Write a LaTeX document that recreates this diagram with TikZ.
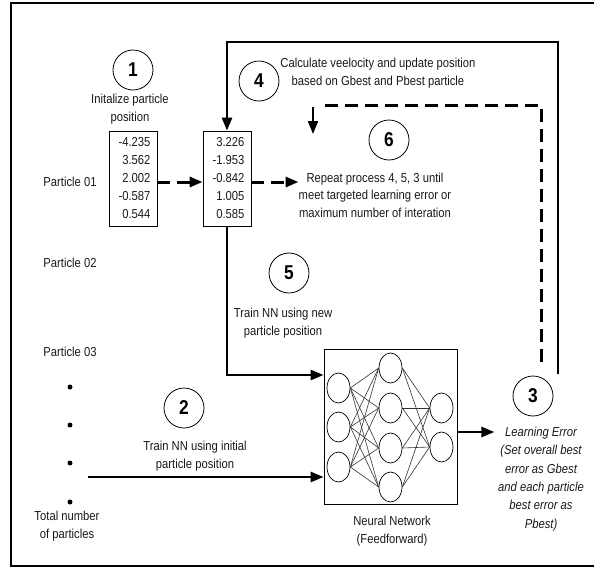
\documentclass[tikz,border=0pt]{standalone}
\usepackage{fontspec}
\setmainfont{Liberation Sans}[FakeStretch=0.865]
\usetikzlibrary{arrows.meta,shapes.geometric}
\begin{document}
\begin{tikzpicture}[x=1pt,y=-1pt,
  txt/.style={align=center,inner sep=0pt,text=black!90,font=\fontsize{13}{17.5}\selectfont},
  numc/.style={draw,circle,minimum size=40pt,inner sep=0pt,line width=0.8pt,font=\fontsize{20}{20}\selectfont\bfseries},
  valbox/.style={draw,line width=0.8pt,text width=35pt,align=right,inner xsep=6.5pt,minimum height=95pt,text=black!90,font=\fontsize{13}{18}\selectfont},
  neuron/.style={draw,ellipse,minimum width=23pt,minimum height=30pt,inner sep=0pt,line width=0.7pt},
  syn/.style={line width=0.6pt,black!80},
  dotn/.style={circle,fill,inner sep=0pt,minimum size=5pt},
  tip/.style={-{Triangle[length=13pt,width=10pt]}},
  solidarrow/.style={line width=2.6pt,tip},
  dasharrow/.style={line width=3pt,dash pattern=on 13pt off 7pt,tip},
  dashline/.style={line width=3pt,dash pattern=on 13pt off 7pt},
]
\useasboundingbox (0,0) rectangle (595,568);
% frame
\draw[line width=1.2pt] (594,3) -- (11,3) -- (11,566) -- (594,566);

% step circles
\node[numc] (c1) at (133,70) {1};
\node[numc] (c4) at (259,81) {4};
\node[numc] (c6) at (389,140) {6};
\node[numc] (c5) at (289,273) {5};
\node[numc] (c2) at (184,408) {2};
\node[numc] (c3) at (533,396) {3};

% texts
\node[txt] (tinit) at (130,109) {Initalize particle\\position};
\node[txt] (tcalc) at (378,73) {Calculate veelocity and update position\\based on Gbest and Pbest particle};
\node[txt] (trep) at (375,195) {Repeat process 4, 5, 3 until\\meet targeted learning error or\\maximum number of interation};
\node[txt] (tnew) at (283,323) {Train NN using new\\particle position};
\node[txt] (tini) at (195,456) {Train NN using initial\\particle position};
\node[txt] (tnn) at (392,531) {Neural Network\\(Feedforward)};
\node[txt,font=\fontsize{13}{18.4}\selectfont\itshape] (tle) at (541,479) {Learning Error\\(Set overall best\\error as Gbest\\and each particle\\best error as\\Pbest)};

\node[txt] (p1) at (70,182) {Particle 01};
\node[txt] (p2) at (70,263) {Particle 02};
\node[txt] (p3) at (70,352) {Particle 03};
\node[dotn] (d1) at (70,387) {};
\node[dotn] (d2) at (70,425) {};
\node[dotn] (d3) at (70,463) {};
\node[dotn] (d4) at (70,502) {};
\node[txt] (ttot) at (67,526) {Total number\\of particles};

% value boxes
\node[valbox] (b1) at (133,178.5) {-4.235\\3.562\\2.002\\-0.587\\0.544};
\node[valbox] (b2) at (227,178.5) {3.226\\-1.953\\-0.842\\1.005\\0.585};

% neural network
\node[draw,line width=0.8pt,minimum width=133pt,minimum height=155pt,inner sep=0pt] (nn) at (390.5,426.5) {};
\node[neuron] (i1) at (338.5,388) {};
\node[neuron] (i2) at (338.5,427) {};
\node[neuron] (i3) at (338.5,467) {};
\node[neuron] (h1) at (390.5,368) {};
\node[neuron] (h2) at (390.5,408) {};
\node[neuron] (h3) at (390.5,448) {};
\node[neuron] (h4) at (390.5,487) {};
\node[neuron] (o1) at (441.5,408) {};
\node[neuron] (o2) at (441.5,447) {};
\foreach \i in {i1,i2,i3}{\foreach \h in {h1,h2,h3,h4}{\draw[syn] (\i.east) -- (\h.west);}}
\foreach \h in {h1,h2,h3,h4}{\foreach \o in {o1,o2}{\draw[syn] (\h.east) -- (\o.west);}}

% connectors
\draw[dasharrow] ([yshift=-3.5pt]b1.east) -- ([yshift=-3.5pt]b2.west);
\draw[dasharrow] ([yshift=-3.5pt]b2.east) -- ([yshift=-3.5pt]b2.east -| trep.west);
\draw[solidarrow] (b2.south) |- ([yshift=51.5pt]nn.west);
\coordinate (ini) at (88,477);
\draw[solidarrow] (ini) -- (ini -| nn.west);
\draw[solidarrow] ([yshift=-5.5pt]nn.east) -- ++(37,0);

\coordinate (s3) at (558,374);
\draw[solidarrow] (s3) -- (558,42) -| (b2.north);
\coordinate (d3s) at (541,362);
\draw[dashline] (d3s) -- (541,105) -- (318,105);
\draw[line width=2pt,tip] (313,107) -- (313,134);
\end{tikzpicture}
\end{document}
